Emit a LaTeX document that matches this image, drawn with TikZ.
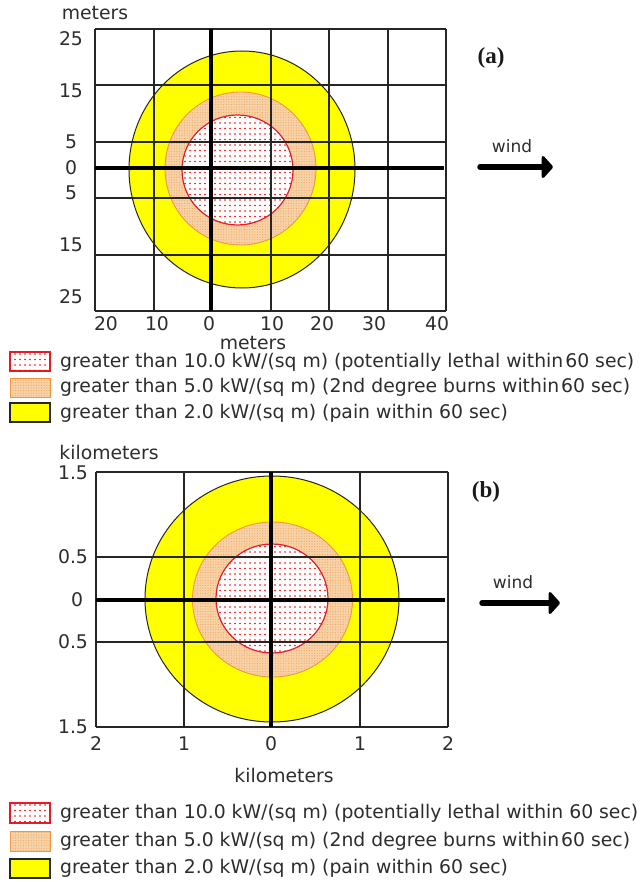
\documentclass[tikz,border=0pt]{standalone}
\usepackage{fontspec}
\setmainfont{DejaVu Sans}
\newfontfamily\panelfont{Liberation Serif}
\usetikzlibrary{patterns,arrows.meta}
\pgfdeclarepatternformonly{reddots}{\pgfqpoint{-1pt}{-1pt}}{\pgfqpoint{1pt}{1pt}}{\pgfqpoint{5pt}{5.5pt}}{\pgfpathcircle{\pgfqpoint{0pt}{0pt}}{0.85pt}\pgfusepath{fill}}
\pgfdeclarepatternformonly{peachdots}{\pgfqpoint{-1pt}{-1pt}}{\pgfqpoint{1pt}{1pt}}{\pgfqpoint{2.6pt}{2.6pt}}{\pgfpathcircle{\pgfqpoint{0pt}{0pt}}{0.55pt}\pgfusepath{fill}}
\definecolor{yel}{RGB}{255,255,0}
\definecolor{peach}{RGB}{248,210,166}
\definecolor{peachdot}{RGB}{236,162,92}
\definecolor{orline}{RGB}{242,150,60}
\definecolor{redline}{RGB}{228,28,40}
\definecolor{txt}{RGB}{45,45,45}
\definecolor{gridc}{RGB}{38,38,38}
\newcommand\axfont{\fontsize{18.8}{22}\selectfont}
\newcommand\windfont{\fontsize{17}{20}\selectfont}
\newcommand\tagfont{\panelfont\bfseries\fontsize{23}{26}\selectfont}
\tikzset{
  gridline/.style={draw=gridc, line width=1.3pt},
  axisline/.style={draw=black, line width=4pt},
  lbl/.style={text=txt, inner sep=0pt, font=\axfont},
  leg/.style={text=txt, inner sep=0pt, anchor=west, font=\axfont},
  windlbl/.style={text=txt, inner sep=0pt, font=\windfont},
  tag/.style={text=black!90, inner sep=0pt, font=\tagfont},
  windarrow/.style={line width=5.5pt, line cap=round, -{Triangle[length=12pt,width=26pt,round]}},
  yellowzone/.style={fill=yel, draw=black!85, line width=1pt},
  redbox/.style={fill=white, postaction={pattern=reddots, pattern color=red}, draw=redline, line width=1.2pt},
  peachbox/.style={fill=peach, postaction={pattern=peachdots, pattern color=peachdot}, draw=orline, line width=1pt},
  yelbox/.style={fill=yel, draw=black!85, line width=1.5pt},
}
\begin{document}
\begin{tikzpicture}[x=1pt,y=-1pt]
\useasboundingbox (0,0) rectangle (642,882);
\fill[white] (0,0) rectangle (642,882);

% ---------------- Panel (a) ----------------
\path[yellowzone] (242,169.5) ellipse [x radius=113, y radius=118.5];
\fill[peach] (240.5,168.5) ellipse [x radius=75.5, y radius=76.5];
\fill[pattern=peachdots, pattern color=peachdot] (240.5,168.5) ellipse [x radius=75.5, y radius=76.5];
\draw[orline, line width=0.9pt] (240.5,168.5) ellipse [x radius=75.5, y radius=76.5];
\fill[white] (237.5,170) ellipse [x radius=55.5, y radius=55];
\fill[pattern=reddots, pattern color=red] (237.5,170) ellipse [x radius=55.5, y radius=55];
\draw[redline, line width=1.2pt] (237.5,170) ellipse [x radius=55.5, y radius=55];

\foreach \x in {95,154,271,329,388,446} \draw[gridline] (\x,29) -- (\x,311);
\foreach \y in {29,85,142,198,255,311} \draw[gridline] (95,\y) -- (446,\y);
\draw[axisline] (211,29) -- (211,311);
\draw[axisline] (95,168) -- (444,168);

\node[lbl] (aYt) at (95,13) {meters};
\node[lbl] (aY25) at (71,39) {25};
\node[lbl] (aY15) at (71,91) {15};
\node[lbl] (aY5) at (71,142) {5};
\node[lbl] (aY0) at (71,168) {0};
\node[lbl] (aYm5) at (71,193) {5};
\node[lbl] (aYm15) at (71,245) {15};
\node[lbl] (aYm25) at (71,297) {25};
\node[lbl] (aXm20) at (106,324) {20};
\node[lbl] (aXm10) at (157,324) {10};
\node[lbl] (aX0) at (209,324) {0};
\node[lbl] (aX10) at (272,324) {10};
\node[lbl] (aX20) at (322,324) {20};
\node[lbl] (aX30) at (374,324) {30};
\node[lbl] (aX40) at (437,324) {40};
\node[lbl] (aXt) at (253,343) {meters};

\node[tag] (atag) at (491,58) {(a)};
\node[windlbl] (awind) at (512,146) {wind};
\coordinate (wa1) at (480,167);
\coordinate (wa2) at (553,167);
\draw[windarrow] (wa1) -- (wa2);

% legend (a)
\path[redbox] (10,352) rectangle (50,371);
\path[peachbox] (10,378) rectangle (50,397);
\path[yelbox] (10,403) rectangle (50,422);
\node[leg] (al1) at (60,362) {greater than 10.0 kW/(sq m) (potentially lethal within\hspace{2pt}60 sec)};
\node[leg] (al2) at (60,387) {greater than 5.0 kW/(sq m) (2nd degree burns within\hspace{2pt}60 sec)};
\node[leg] (al3) at (60,413) {greater than 2.0 kW/(sq m) (pain within 60 sec)};

% ---------------- Panel (b) ----------------
\path[yellowzone] (272,599) ellipse [x radius=127, y radius=123];
\fill[peach] (272.5,599.5) ellipse [x radius=80, y radius=77.5];
\fill[pattern=peachdots, pattern color=peachdot] (272.5,599.5) ellipse [x radius=80, y radius=77.5];
\draw[orline, line width=0.9pt] (272.5,599.5) ellipse [x radius=80, y radius=77.5];
\fill[white] (272,598.5) ellipse [x radius=56, y radius=54.5];
\fill[pattern=reddots, pattern color=red] (272,598.5) ellipse [x radius=56, y radius=54.5];
\draw[redline, line width=1.2pt] (272,598.5) ellipse [x radius=56, y radius=54.5];

\foreach \x in {96,184,360,448} \draw[gridline] (\x,472) -- (\x,727);
\foreach \y in {472,557,642,727} \draw[gridline] (96,\y) -- (448,\y);
\draw[axisline] (271,472) -- (271,727);
\draw[axisline] (96,599.5) -- (445,599.5);

\node[lbl] (bYt) at (109,452) {kilometers};
\node[lbl] (bY15) at (73,473) {1.5};
\node[lbl] (bY05) at (73,557) {0.5};
\node[lbl] (bY0) at (77,600) {0};
\node[lbl] (bYm05) at (73,642) {0.5};
\node[lbl] (bYm15) at (73,727) {1.5};
\node[lbl] (bXm2) at (96,744) {2};
\node[lbl] (bXm1) at (184,744) {1};
\node[lbl] (bX0) at (271,744) {0};
\node[lbl] (bX1) at (360,744) {1};
\node[lbl] (bX2) at (448,744) {2};
\node[lbl] (bXt) at (284,775) {kilometers};

\node[tag] (btag) at (486,492) {(b)};
\node[windlbl] (bwind) at (513,582) {wind};
\coordinate (wb1) at (482,603);
\coordinate (wb2) at (560,603);
\draw[windarrow] (wb1) -- (wb2);

% legend (b)
\path[redbox] (10,803) rectangle (50,823);
\path[peachbox] (10,831) rectangle (50,851);
\path[yelbox] (10,859) rectangle (50,878);
\node[leg] (bl1) at (60,813) {greater than 10.0 kW/(sq m) (potentially lethal within 60 sec)};
\node[leg] (bl2) at (60,841) {greater than 5.0 kW/(sq m) (2nd degree burns within\hspace{2pt}60 sec)};
\node[leg] (bl3) at (60,868) {greater than 2.0 kW/(sq m) (pain within 60 sec)};
\end{tikzpicture}
\end{document}
